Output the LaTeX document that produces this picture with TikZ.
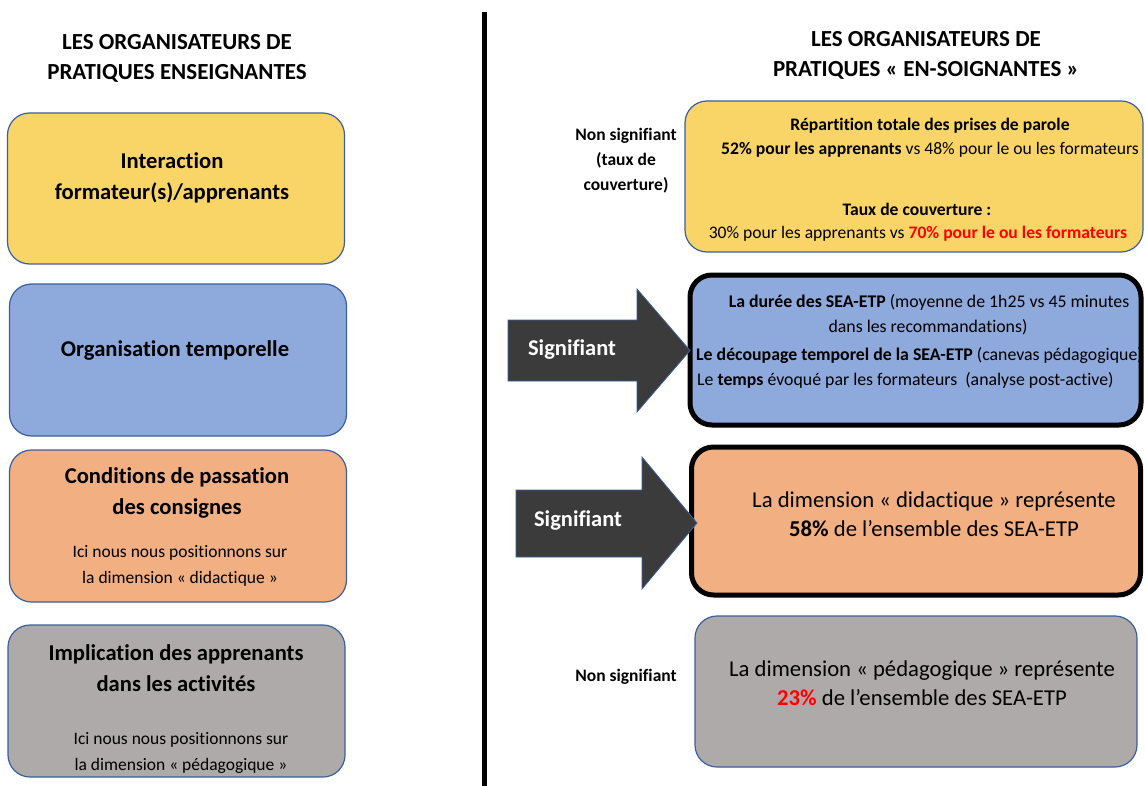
\documentclass[tikz,border=0pt]{standalone}
\usepackage{fontspec}
\setmainfont{Carlito}[Ligatures={NoCommon}]
\definecolor{cyel}{HTML}{F9D567}
\definecolor{cblue}{HTML}{8EA9DB}
\definecolor{corange}{HTML}{F1AF82}
\definecolor{cgray}{HTML}{AEAAAA}
\definecolor{cbord}{HTML}{3A5F9E}
\definecolor{carrow}{HTML}{3B3B3B}
\definecolor{cred}{HTML}{FF0000}
\tikzset{
  box/.style={draw=cbord, line width=1.2pt, rounded corners=22pt, inner sep=0pt},
  thickbox/.style={draw=black, line width=5pt, rounded corners=22pt, inner sep=0pt},
  txt/.style={inner sep=0pt, align=center, text=black},
  ttl/.style={txt, font=\fontsize{23}{30}\selectfont\bfseries},
  lhead/.style={txt, font=\fontsize{22.6}{31}\selectfont\bfseries},
  lsmall/.style={txt, font=\fontsize{17.5}{26}\selectfont},
  rtxt/.style={txt, font=\fontsize{17.6}{24}\selectfont},
  rtxtb/.style={txt, font=\fontsize{17.6}{24}\selectfont\bfseries},
  rmid/.style={txt, font=\fontsize{17.8}{24}\selectfont},
  rbig/.style={txt, font=\fontsize{22.7}{29}\selectfont},
  side/.style={txt, font=\fontsize{17.5}{25}\selectfont\bfseries},
  arrowshape/.style={fill=carrow, draw=cbord, line width=0.8pt},
  arrtxt/.style={txt, text=white, font=\fontsize{22.5}{24}\selectfont\bfseries},
}
\begin{document}
\begin{tikzpicture}[x=1pt,y=-1pt]
\useasboundingbox (0,0) rectangle (1145,786);

% vertical separator
\coordinate (vtop) at (484,12);
\coordinate (vbot) at (484,786);
\draw[line width=5pt] (vtop) -- (vbot);

% titles
\node[ttl] (tleft) at (177,58) {LES ORGANISATEURS DE\\PRATIQUES ENSEIGNANTES};
\node[ttl] (tright) at (926,55) {LES ORGANISATEURS DE\\PRATIQUES « EN-SOIGNANTES »};

% left boxes
\node[box, fill=cyel, minimum width=337pt, minimum height=151pt] (L1) at (176,188.5) {};
\node[lhead] (L1t) at (172,178) {Interaction\\formateur(s)/apprenants};

\node[box, fill=cblue, minimum width=337pt, minimum height=152pt] (L2) at (178,360) {};
\node[lhead] (L2t) at (175,350) {Organisation temporelle};

\node[box, fill=corange, minimum width=337pt, minimum height=152pt] (L3) at (178,526) {};
\node[lhead] (L3t) at (177,493) {Conditions de passation\\des consignes};
\node[lsmall] (L3s) at (180,566) {Ici nous nous positionnons sur\\la dimension « didactique »};

\node[box, fill=cgray, minimum width=337pt, minimum height=152pt] (L4) at (176.5,701) {};
\node[lhead] (L4t) at (176,668) {Implication des apprenants\\dans les activités};
\node[lsmall] (L4s) at (181,753) {Ici nous nous positionnons sur\\la dimension « pédagogique »};

% right boxes
\node[box, fill=cyel, minimum width=458pt, minimum height=151pt] (R1) at (914,176.5) {};
\node[rtxtb] (R1a) at (930,126) {Répartition totale des prises de parole};
\node[rtxt] (R1b) at (930,150) {\textbf{52\% pour les apprenants} vs 48\% pour le ou les formateurs};
\node[rtxtb] (R1c) at (917,209) {Taux de couverture :};
\node[rtxt] (R1d) at (918,234) {30\% pour les apprenants vs \textcolor{cred}{\bfseries 70\% pour le ou les formateurs}};

\node[thickbox, fill=cblue, minimum width=451pt, minimum height=150pt] (R2) at (915.5,350) {};
\node[rmid] (R2a) at (929,302) {\textbf{La durée des SEA-ETP} (moyenne de 1h25 vs 45 minutes};
\node[rmid] (R2b) at (928,327) {dans les recommandations)};
\node[rmid, anchor=west] (R2c) at (696,356) {\textbf{Le découpage temporel de la SEA-ETP} (canevas pédagogique)};
\node[rmid, anchor=west] (R2d) at (697,380) {Le \textbf{temps} évoqué par les formateurs~ (analyse post-active)};

\node[thickbox, fill=corange, minimum width=449pt, minimum height=148pt] (R3) at (916,521) {};
\node[rbig] (R3t) at (934,514) {La dimension « didactique » représente\\\textbf{58\%} de l’ensemble des SEA-ETP};

\node[box, fill=cgray, minimum width=442pt, minimum height=151pt] (R4) at (916,691.5) {};
\node[rbig] (R4t) at (922,683) {La dimension « pédagogique » représente\\\textcolor{cred}{\bfseries 23\%} de l’ensemble des SEA-ETP};

% side labels
\node[side] (N1) at (626,161) {Non signifiant\\(taux de\\couverture)};
\node[side] (N2) at (626,677) {Non signifiant};

% arrows
\draw[arrowshape] (508,320) -- (637,320) -- (637,289) -- (690,350.5) -- (637,412) -- (637,381) -- (508,381) -- cycle;
\node[arrtxt] (A1) at (572,350) {Signifiant};
\draw[arrowshape] (516,490) -- (642,490) -- (642,457) -- (697,523) -- (642,589) -- (642,557) -- (516,557) -- cycle;
\node[arrtxt] (A2) at (578,521) {Signifiant};
\end{tikzpicture}
\end{document}
